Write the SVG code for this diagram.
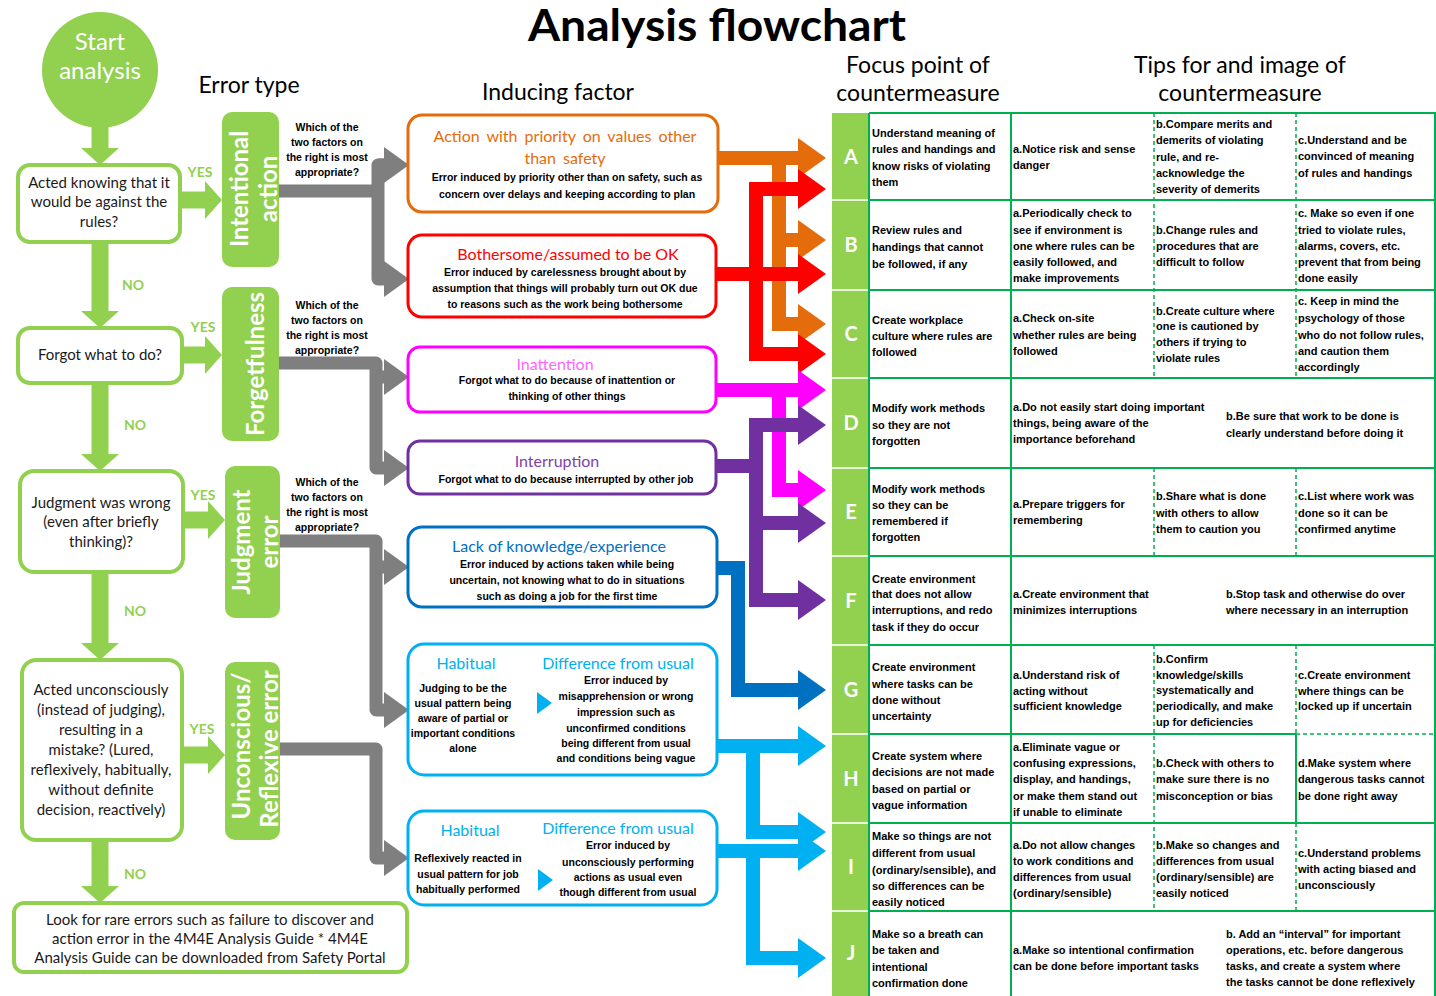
<svg xmlns="http://www.w3.org/2000/svg" width="1436" height="996" viewBox="0 0 1436 996">
<style>
.gb{fill:#fff;stroke:#92d050;stroke-width:4}
.et{fill:#92d050}
.lt{font-family:Lato,"Liberation Sans",sans-serif;font-size:15px;fill:#1a1a1a;text-anchor:middle}
.yn{font-family:Lato,"Liberation Sans",sans-serif;font-size:14px;font-weight:bold;fill:#92d050;text-anchor:middle}
.vt{font-family:Lato,"Liberation Sans",sans-serif;font-size:24px;font-weight:bold;fill:#fff;text-anchor:middle;dominant-baseline:central}
.q{font-family:"Liberation Sans",Arial,sans-serif;font-size:10.5px;font-weight:bold;fill:#000;text-anchor:middle}
.h{font-family:Lato,"Liberation Sans",sans-serif;font-size:23px;fill:#000;text-anchor:middle}
.ft{font-family:Lato,"Liberation Sans",sans-serif;font-size:16px;text-anchor:middle}
.ib{font-family:"Liberation Sans",Arial,sans-serif;font-size:10.5px;font-weight:bold;fill:#000;text-anchor:middle}
.tt{font-family:"Liberation Sans",Arial,sans-serif;font-size:11px;font-weight:bold;fill:#000}
.lt2{font-family:Lato,"Liberation Sans",sans-serif;font-size:20px;font-weight:bold;fill:#fff;text-anchor:middle}
.ib0{fill:#fff;stroke-width:3}
.sl{stroke:#00b050;stroke-width:2;fill:none}
.dl{stroke:#00b050;stroke-width:1.5;stroke-dasharray:4,3;fill:none}
.gr{fill:none;stroke:#7f7f7f;stroke-width:13;stroke-linejoin:round}
.ga{fill:none;stroke:#92d050;stroke-width:17}
.ca{fill:none;stroke-width:14}
</style>
<defs>
<marker id="mG" markerUnits="userSpaceOnUse" markerWidth="17" markerHeight="38" viewBox="0 0 17 38" refX="0" refY="19" orient="auto"><path d="M0,0L17,19L0,38z" fill="#92d050"/></marker>
<marker id="mGr" markerUnits="userSpaceOnUse" markerWidth="25" markerHeight="36" viewBox="0 0 25 36" refX="0" refY="18" orient="auto"><path d="M0,0L25,18L0,36z" fill="#7f7f7f"/></marker>
<marker id="mOr" markerUnits="userSpaceOnUse" markerWidth="28" markerHeight="40" viewBox="0 0 28 40" refX="0" refY="20" orient="auto"><path d="M0,0L28,20L0,40z" fill="#e46c0a"/></marker>
<marker id="mRd" markerUnits="userSpaceOnUse" markerWidth="28" markerHeight="40" viewBox="0 0 28 40" refX="0" refY="20" orient="auto"><path d="M0,0L28,20L0,40z" fill="#ff0000"/></marker>
<marker id="mMg" markerUnits="userSpaceOnUse" markerWidth="28" markerHeight="40" viewBox="0 0 28 40" refX="0" refY="20" orient="auto"><path d="M0,0L28,20L0,40z" fill="#ff00ff"/></marker>
<marker id="mPu" markerUnits="userSpaceOnUse" markerWidth="28" markerHeight="40" viewBox="0 0 28 40" refX="0" refY="20" orient="auto"><path d="M0,0L28,20L0,40z" fill="#7030a0"/></marker>
<marker id="mDb" markerUnits="userSpaceOnUse" markerWidth="28" markerHeight="40" viewBox="0 0 28 40" refX="0" refY="20" orient="auto"><path d="M0,0L28,20L0,40z" fill="#0070c0"/></marker>
<marker id="mLb" markerUnits="userSpaceOnUse" markerWidth="28" markerHeight="40" viewBox="0 0 28 40" refX="0" refY="20" orient="auto"><path d="M0,0L28,20L0,40z" fill="#00b0f0"/></marker>
</defs>
<rect width="1436" height="996" fill="#fff"/>

<g id="headings">
<text x="717" y="41" font-family="Lato,'Liberation Sans',sans-serif" font-size="44" font-weight="bold" text-anchor="middle" textLength="378" lengthAdjust="spacingAndGlyphs">Analysis flowchart</text>
<text class="h" x="249" y="93">Error type</text>
<text class="h" x="558" y="100">Inducing factor</text>
<text class="h" x="918" y="73">Focus point of</text>
<text class="h" x="918" y="101">countermeasure</text>
<text class="h" x="1240" y="73">Tips for and image of</text>
<text class="h" x="1240" y="101">countermeasure</text>
</g>

<g id="connectors">
<path class="ga" d="M100,126V148" marker-end="url(#mG)"/>
<path class="ga" d="M100,243V311" marker-end="url(#mG)"/>
<path class="ga" d="M100,384V454" marker-end="url(#mG)"/>
<path class="ga" d="M100,573V643" marker-end="url(#mG)"/>
<path class="ga" d="M100,841V886" marker-end="url(#mG)"/>
<path class="ga" d="M181,200H205" marker-end="url(#mG)"/>
<path class="ga" d="M183,355H205" marker-end="url(#mG)"/>
<path class="ga" d="M184,520H208" marker-end="url(#mG)"/>
<path class="ga" d="M183,755H208" marker-end="url(#mG)"/>
<path class="gr" d="M279,191H378"/>
<path class="gr" d="M384,165H378V279H384" marker-end="url(#mGr)"/>
<path class="gr" d="M378,165H384" marker-end="url(#mGr)"/>
<path class="gr" d="M279,363H376V468H384" marker-end="url(#mGr)"/>
<path class="gr" d="M376,377H384" marker-end="url(#mGr)"/>
<path class="gr" d="M280,541H376V710H384" marker-end="url(#mGr)"/>
<path class="gr" d="M376,567H384" marker-end="url(#mGr)"/>
<path class="gr" d="M280,749H376V858H384" marker-end="url(#mGr)"/>
<path class="ca" stroke="#e46c0a" d="M718,158H798" marker-end="url(#mOr)"/>
<path class="ca" stroke="#e46c0a" d="M779,151V331"/>
<path class="ca" stroke="#e46c0a" d="M779,240H798" marker-end="url(#mOr)"/>
<path class="ca" stroke="#e46c0a" d="M779,324H798" marker-end="url(#mOr)"/>
<path class="ca" stroke="#ff0000" d="M756,182V361"/>
<path class="ca" stroke="#ff0000" d="M716,274H798" marker-end="url(#mRd)"/>
<path class="ca" stroke="#ff0000" d="M749,189H798" marker-end="url(#mRd)"/>
<path class="ca" stroke="#ff0000" d="M749,354H798" marker-end="url(#mRd)"/>
<path class="ca" stroke="#ff00ff" d="M716,390H798" marker-end="url(#mMg)"/>
<path class="ca" stroke="#ff00ff" d="M779,383V497"/>
<path class="ca" stroke="#ff00ff" d="M779,490H798" marker-end="url(#mMg)"/>
<path class="ca" stroke="#7030a0" d="M716,466H756"/>
<path class="ca" stroke="#7030a0" d="M756,418V607"/>
<path class="ca" stroke="#7030a0" d="M749,425H798" marker-end="url(#mPu)"/>
<path class="ca" stroke="#7030a0" d="M756,523H798" marker-end="url(#mPu)"/>
<path class="ca" stroke="#7030a0" d="M749,600H798" marker-end="url(#mPu)"/>
<path class="ca" stroke="#0070c0" d="M717,568H738V690H798" marker-end="url(#mDb)"/>
<path class="ca" stroke="#00b0f0" d="M717,746H798" marker-end="url(#mLb)"/>
<path class="ca" stroke="#00b0f0" d="M753,739V839"/>
<path class="ca" stroke="#00b0f0" d="M753,832H798" marker-end="url(#mLb)"/>
<path class="ca" stroke="#00b0f0" d="M717,851H798" marker-end="url(#mLb)"/>
<path class="ca" stroke="#00b0f0" d="M753,844V965"/>
<path class="ca" stroke="#00b0f0" d="M753,958H798" marker-end="url(#mLb)"/>
</g>

<g id="start">
<circle cx="100" cy="70" r="58" fill="#92d050"/>
<text x="100" y="50" font-family="Lato,'Liberation Sans',sans-serif" font-size="24" fill="#fff" text-anchor="middle">Start</text>
<text x="100" y="79" font-family="Lato,'Liberation Sans',sans-serif" font-size="24" fill="#fff" text-anchor="middle">analysis</text>
</g>

<g id="q1">
<rect class="gb" x="18" y="165" width="162" height="77" rx="12"/>
<text class="lt" x="99" y="188">Acted knowing that it</text>
<text class="lt" x="99" y="207">would be against the</text>
<text class="lt" x="99" y="227">rules?</text>
</g>
<g id="q2">
<rect class="gb" x="18" y="328" width="164" height="55" rx="12"/>
<text class="lt" x="100" y="360">Forgot what to do?</text>
</g>
<g id="q3">
<rect class="gb" x="20" y="471" width="163" height="101" rx="14"/>
<text class="lt" x="101" y="508">Judgment was wrong</text>
<text class="lt" x="101" y="527">(even after briefly</text>
<text class="lt" x="101" y="547">thinking)?</text>
</g>
<g id="q4">
<rect class="gb" x="22" y="660" width="160" height="180" rx="14"/>
<text class="lt" x="101" y="695">Acted unconsciously</text>
<text class="lt" x="101" y="715">(instead of judging),</text>
<text class="lt" x="101" y="735">resulting in a</text>
<text class="lt" x="101" y="755">mistake? (Lured,</text>
<text class="lt" x="101" y="775">reflexively, habitually,</text>
<text class="lt" x="101" y="795">without definite</text>
<text class="lt" x="101" y="815">decision, reactively)</text>
</g>
<g id="rare">
<rect class="gb" x="14" y="903" width="393" height="69" rx="10"/>
<text class="lt" x="210" y="925">Look for rare errors such as failure to discover and</text>
<text class="lt" x="210" y="944">action error in the 4M4E Analysis Guide * 4M4E</text>
<text class="lt" x="210" y="963">Analysis Guide can be downloaded from Safety Portal</text>
</g>

<g id="labels">
<text class="yn" x="200" y="177">YES</text>
<text class="yn" x="133" y="290">NO</text>
<text class="yn" x="203" y="332">YES</text>
<text class="yn" x="135" y="430">NO</text>
<text class="yn" x="203" y="500">YES</text>
<text class="yn" x="135" y="616">NO</text>
<text class="yn" x="202" y="734">YES</text>
<text class="yn" x="135" y="879">NO</text>
</g>

<g id="e-intentional">
<rect class="et" x="222" y="112" width="57" height="155" rx="10"/>
<text class="vt" transform="translate(238,189) rotate(-90)">Intentional</text>
<text class="vt" transform="translate(267,189) rotate(-90)">action</text>
</g>
<g id="e-forget">
<rect class="et" x="222" y="287" width="57" height="154" rx="10"/>
<text class="vt" transform="translate(254,364) rotate(-90)">Forgetfulness</text>
</g>
<g id="e-judgment">
<rect class="et" x="225" y="466" width="55" height="152" rx="10"/>
<text class="vt" transform="translate(240,542) rotate(-90)">Judgment</text>
<text class="vt" transform="translate(268,542) rotate(-90)">error</text>
</g>
<g id="e-unconscious">
<rect class="et" x="225" y="662" width="55" height="178" rx="10"/>
<text class="vt" transform="translate(240,746) rotate(-90)">Unconscious/</text>
<text class="vt" transform="translate(268,749) rotate(-90)">Reflexive error</text>
</g>

<g id="which">
<text class="q" x="327" y="131">Which of the</text>
<text class="q" x="327" y="146">two factors on</text>
<text class="q" x="327" y="161">the right is most</text>
<text class="q" x="327" y="176">appropriate?</text>
<text class="q" x="327" y="309">Which of the</text>
<text class="q" x="327" y="324">two factors on</text>
<text class="q" x="327" y="339">the right is most</text>
<text class="q" x="327" y="354">appropriate?</text>
<text class="q" x="327" y="486">Which of the</text>
<text class="q" x="327" y="501">two factors on</text>
<text class="q" x="327" y="516">the right is most</text>
<text class="q" x="327" y="531">appropriate?</text>
</g>

<g id="f-priority">
<rect class="ib0" stroke="#e46c0a" x="408" y="115" width="310" height="97" rx="14"/>
<text class="ft" fill="#e46c0a" x="565" y="142" word-spacing="3">Action with priority on values other</text>
<text class="ft" fill="#e46c0a" x="565" y="164" word-spacing="3">than safety</text>
<text class="ib" x="567" y="181">Error induced by priority other than on safety, such as</text>
<text class="ib" x="567" y="198">concern over delays and keeping according to plan</text>
</g>
<g id="f-bothersome">
<rect class="ib0" stroke="#ff0000" x="408" y="235" width="308" height="82" rx="14"/>
<text class="ft" fill="#ff0000" x="568" y="260">Bothersome/assumed  to be OK</text>
<text class="ib" x="565" y="276">Error induced by carelessness brought about by</text>
<text class="ib" x="565" y="292">assumption that things will probably turn out OK due</text>
<text class="ib" x="565" y="308">to reasons such as the work being bothersome</text>
</g>
<g id="f-inattention">
<rect class="ib0" stroke="#ff00ff" x="408" y="347" width="308" height="65" rx="12"/>
<text class="ft" fill="#ff66ff" x="555" y="370">Inattention</text>
<text class="ib" x="567" y="384">Forgot what to do because of inattention or</text>
<text class="ib" x="567" y="400">thinking of other things</text>
</g>
<g id="f-interruption">
<rect class="ib0" stroke="#7030a0" x="408" y="441" width="308" height="53" rx="12"/>
<text class="ft" fill="#7d3fb0" x="557" y="467">Interruption</text>
<text class="ib" x="566" y="483">Forgot what to do because interrupted by other job</text>
</g>
<g id="f-knowledge">
<rect class="ib0" stroke="#0070c0" x="408" y="527" width="309" height="80" rx="14"/>
<text class="ft" fill="#0070c0" x="559" y="552">Lack of knowledge/experience</text>
<text class="ib" x="567" y="568">Error induced by actions taken while being</text>
<text class="ib" x="567" y="584">uncertain, not knowing what to do in situations</text>
<text class="ib" x="567" y="600">such as doing a job for the first time</text>
</g>
<g id="f-habitual1">
<rect class="ib0" stroke="#00b0f0" x="408" y="644" width="309" height="131" rx="16"/>
<text class="ft" fill="#00b0f0" x="466" y="669">Habitual</text>
<text class="ft" fill="#00b0f0" x="618" y="669">Difference  from usual</text>
<text class="ib" x="463" y="692">Judging to be the</text>
<text class="ib" x="463" y="707">usual pattern being</text>
<text class="ib" x="463" y="722">aware of partial or</text>
<text class="ib" x="463" y="737">important conditions</text>
<text class="ib" x="463" y="752">alone</text>
<polygon points="537,692 552,703 537,714" fill="#00b0f0"/>
<text class="ib" x="626" y="684">Error induced by</text>
<text class="ib" x="626" y="700">misapprehension or wrong</text>
<text class="ib" x="626" y="716">impression such as</text>
<text class="ib" x="626" y="732">unconfirmed conditions</text>
<text class="ib" x="626" y="747">being different from usual</text>
<text class="ib" x="626" y="762">and conditions being vague</text>
</g>
<g id="f-habitual2">
<rect class="ib0" stroke="#00b0f0" x="408" y="811" width="309" height="94" rx="16"/>
<text class="ft" fill="#00b0f0" x="470" y="836">Habitual</text>
<text class="ft" fill="#00b0f0" x="618" y="834">Difference  from usual</text>
<text class="ib" x="468" y="862">Reflexively reacted in</text>
<text class="ib" x="468" y="878">usual pattern for job</text>
<text class="ib" x="468" y="893">habitually performed</text>
<polygon points="538,869 553,880 538,891" fill="#00b0f0"/>
<text class="ib" x="628" y="849">Error induced by</text>
<text class="ib" x="628" y="866">unconsciously performing</text>
<text class="ib" x="628" y="881">actions as usual even</text>
<text class="ib" x="628" y="896">though different from usual</text>
</g>

<g id="table">
<rect x="832" y="113" width="37" height="883" fill="#92d050"/>
<g stroke="#e8f5d8" stroke-width="2">
<path d="M832,200H869M832,290H869M832,378H869M832,468H869M832,556H869M832,645H869M832,734H869M832,823H869M832,911H869"/>
</g>
<g class="sl">
<path d="M869,113H1435V996M869,113V996"/>
<path d="M869,200H1435M869,290H1435M869,378H1435M869,468H1435M869,556H1435M869,645H1435M869,734H1296M869,823H1435M869,911H1435"/>
<path d="M1011,113V996"/>
<path d="M1296,734V823"/>
</g>
<g class="dl">
<path d="M1154,113V378M1296,113V378"/>
<path d="M1154,468V556M1296,468V556"/>
<path d="M1154,645V911M1296,645V734M1296,823V911"/>
<path d="M1296,734H1435"/>
</g>
<g id="letters">
<text class="lt2" x="851" y="164">A</text>
<text class="lt2" x="851" y="252">B</text>
<text class="lt2" x="851" y="341">C</text>
<text class="lt2" x="851" y="430">D</text>
<text class="lt2" x="851" y="519">E</text>
<text class="lt2" x="851" y="608">F</text>
<text class="lt2" x="851" y="697">G</text>
<text class="lt2" x="851" y="786">H</text>
<text class="lt2" x="851" y="874">I</text>
<text class="lt2" x="851" y="960">J</text>
</g>
</g>

<g id="row-A">
<text class="tt"><tspan x="872" y="137">Understand meaning of</tspan><tspan x="872" y="153">rules and handings and</tspan><tspan x="872" y="170">know risks of violating</tspan><tspan x="872" y="186">them</tspan></text>
<text class="tt"><tspan x="1013" y="153">a.Notice risk and sense</tspan><tspan x="1013" y="169">danger</tspan></text>
<text class="tt"><tspan x="1156" y="128">b.Compare merits and</tspan><tspan x="1156" y="144">demerits of violating</tspan><tspan x="1156" y="161">rule, and re-</tspan><tspan x="1156" y="177">acknowledge the</tspan><tspan x="1156" y="193">severity of demerits</tspan></text>
<text class="tt"><tspan x="1298" y="144">c.Understand and be</tspan><tspan x="1298" y="160">convinced of meaning</tspan><tspan x="1298" y="177">of rules and handings</tspan></text>
</g>
<g id="row-B">
<text class="tt"><tspan x="872" y="234">Review rules and</tspan><tspan x="872" y="251">handings that cannot</tspan><tspan x="872" y="268">be followed, if any</tspan></text>
<text class="tt"><tspan x="1013" y="217">a.Periodically check to</tspan><tspan x="1013" y="234">see if environment is</tspan><tspan x="1013" y="250">one where rules can be</tspan><tspan x="1013" y="266">easily followed, and</tspan><tspan x="1013" y="282">make improvements</tspan></text>
<text class="tt"><tspan x="1156" y="234">b.Change rules and</tspan><tspan x="1156" y="250">procedures that are</tspan><tspan x="1156" y="266">difficult to follow</tspan></text>
<text class="tt"><tspan x="1298" y="217">c. Make so even if one</tspan><tspan x="1298" y="234">tried to violate rules,</tspan><tspan x="1298" y="250">alarms, covers, etc.</tspan><tspan x="1298" y="266">prevent that from being</tspan><tspan x="1298" y="282">done easily</tspan></text>
</g>
<g id="row-C">
<text class="tt"><tspan x="872" y="324">Create workplace</tspan><tspan x="872" y="340">culture where rules are</tspan><tspan x="872" y="356">followed</tspan></text>
<text class="tt"><tspan x="1013" y="322">a.Check on-site</tspan><tspan x="1013" y="339">whether rules are being</tspan><tspan x="1013" y="355">followed</tspan></text>
<text class="tt"><tspan x="1156" y="315">b.Create culture where</tspan><tspan x="1156" y="330">one is cautioned by</tspan><tspan x="1156" y="346">others if trying to</tspan><tspan x="1156" y="362">violate rules</tspan></text>
<text class="tt"><tspan x="1298" y="305">c. Keep in mind the</tspan><tspan x="1298" y="322">psychology of those</tspan><tspan x="1298" y="339">who do not follow rules,</tspan><tspan x="1298" y="355">and caution them</tspan><tspan x="1298" y="371">accordingly</tspan></text>
</g>
<g id="row-D">
<text class="tt"><tspan x="872" y="412">Modify work methods</tspan><tspan x="872" y="429">so they are not</tspan><tspan x="872" y="445">forgotten</tspan></text>
<text class="tt"><tspan x="1013" y="411">a.Do not easily start doing important</tspan><tspan x="1013" y="427">things, being aware of the</tspan><tspan x="1013" y="443">importance beforehand</tspan></text>
<text class="tt"><tspan x="1226" y="420">b.Be sure that work to be done is</tspan><tspan x="1226" y="437">clearly understand before doing it</tspan></text>
</g>
<g id="row-E">
<text class="tt"><tspan x="872" y="493">Modify work methods</tspan><tspan x="872" y="509">so they can be</tspan><tspan x="872" y="525">remembered if</tspan><tspan x="872" y="541">forgotten</tspan></text>
<text class="tt"><tspan x="1013" y="508">a.Prepare triggers for</tspan><tspan x="1013" y="524">remembering</tspan></text>
<text class="tt"><tspan x="1156" y="500">b.Share what is done</tspan><tspan x="1156" y="517">with others to allow</tspan><tspan x="1156" y="533">them to caution you</tspan></text>
<text class="tt"><tspan x="1298" y="500">c.List where work was</tspan><tspan x="1298" y="517">done so it can be</tspan><tspan x="1298" y="533">confirmed anytime</tspan></text>
</g>
<g id="row-F">
<text class="tt"><tspan x="872" y="583">Create environment</tspan><tspan x="872" y="598">that does not allow</tspan><tspan x="872" y="614">interruptions, and redo</tspan><tspan x="872" y="631">task if they do occur</tspan></text>
<text class="tt"><tspan x="1013" y="598">a.Create environment that</tspan><tspan x="1013" y="614">minimizes interruptions</tspan></text>
<text class="tt"><tspan x="1226" y="598">b.Stop task and otherwise do over</tspan><tspan x="1226" y="614">where necessary in an interruption</tspan></text>
</g>
<g id="row-G">
<text class="tt"><tspan x="872" y="671">Create environment</tspan><tspan x="872" y="688">where tasks can be</tspan><tspan x="872" y="704">done without</tspan><tspan x="872" y="720">uncertainty</tspan></text>
<text class="tt"><tspan x="1013" y="679">a.Understand risk of</tspan><tspan x="1013" y="695">acting without</tspan><tspan x="1013" y="710">sufficient knowledge</tspan></text>
<text class="tt"><tspan x="1156" y="663">b.Confirm</tspan><tspan x="1156" y="679">knowledge/skills</tspan><tspan x="1156" y="694">systematically and</tspan><tspan x="1156" y="710">periodically, and make</tspan><tspan x="1156" y="726">up for deficiencies</tspan></text>
<text class="tt"><tspan x="1298" y="679">c.Create environment</tspan><tspan x="1298" y="695">where things can be</tspan><tspan x="1298" y="710">locked up if uncertain</tspan></text>
</g>
<g id="row-H">
<text class="tt"><tspan x="872" y="760">Create system where</tspan><tspan x="872" y="776">decisions are not made</tspan><tspan x="872" y="793">based on partial or</tspan><tspan x="872" y="809">vague information</tspan></text>
<text class="tt"><tspan x="1013" y="751">a.Eliminate vague or</tspan><tspan x="1013" y="767">confusing expressions,</tspan><tspan x="1013" y="783">display, and handings,</tspan><tspan x="1013" y="800">or make them stand out</tspan><tspan x="1013" y="816">if unable to eliminate</tspan></text>
<text class="tt"><tspan x="1156" y="767">b.Check with others to</tspan><tspan x="1156" y="783">make sure there is no</tspan><tspan x="1156" y="800">misconception or bias</tspan></text>
<text class="tt"><tspan x="1298" y="767">d.Make system where</tspan><tspan x="1298" y="783">dangerous tasks cannot</tspan><tspan x="1298" y="800">be done right away</tspan></text>
</g>
<g id="row-I">
<text class="tt"><tspan x="872" y="840">Make so things are not</tspan><tspan x="872" y="857">different from usual</tspan><tspan x="872" y="874">(ordinary/sensible), and</tspan><tspan x="872" y="890">so differences can be</tspan><tspan x="872" y="906">easily noticed</tspan></text>
<text class="tt"><tspan x="1013" y="849">a.Do not allow changes</tspan><tspan x="1013" y="865">to work conditions and</tspan><tspan x="1013" y="881">differences from usual</tspan><tspan x="1013" y="897">(ordinary/sensible)</tspan></text>
<text class="tt"><tspan x="1156" y="849">b.Make so changes and</tspan><tspan x="1156" y="865">differences from usual</tspan><tspan x="1156" y="881">(ordinary/sensible) are</tspan><tspan x="1156" y="897">easily noticed</tspan></text>
<text class="tt"><tspan x="1298" y="857">c.Understand problems</tspan><tspan x="1298" y="873">with acting biased and</tspan><tspan x="1298" y="889">unconsciously</tspan></text>
</g>
<g id="row-J">
<text class="tt"><tspan x="872" y="938">Make so a breath can</tspan><tspan x="872" y="954">be taken and</tspan><tspan x="872" y="971">intentional</tspan><tspan x="872" y="987">confirmation done</tspan></text>
<text class="tt"><tspan x="1013" y="954">a.Make so intentional confirmation</tspan><tspan x="1013" y="970">can be done before important tasks</tspan></text>
<text class="tt"><tspan x="1226" y="938">b. Add an “interval” for important</tspan><tspan x="1226" y="954">operations, etc. before dangerous</tspan><tspan x="1226" y="970">tasks, and create a system where</tspan><tspan x="1226" y="986">the tasks cannot be done reflexively</tspan></text>
</g>
</svg>
